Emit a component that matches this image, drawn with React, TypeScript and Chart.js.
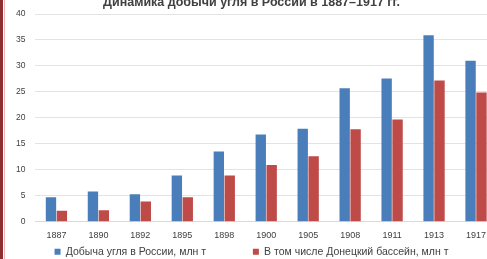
import React, { useEffect, useRef } from "react";
import { Chart, registerables } from "chart.js";

Chart.register(...registerables);

const years = ["1887", "1890", "1892", "1895", "1898", "1900", "1905", "1908", "1911", "1913", "1917"];
const russiaCoal = [4.7, 5.8, 5.3, 8.9, 13.5, 16.8, 17.9, 25.7, 27.6, 35.9, 31.0];
const donbassCoal = [2.1, 2.2, 3.9, 4.7, 8.9, 10.9, 12.6, 17.8, 19.7, 27.2, 24.9];
const yTicks = [0, 5, 10, 15, 20, 25, 30, 35, 40];
const titleText = "Динамика добычи угля в России в 1887–1917 гг.";
const seriesNames = ["Добыча угля в России, млн т", "В том числе Донецкий бассейн, млн т"];

export default function App() {
  const ref = useRef<HTMLCanvasElement | null>(null);

  useEffect(() => {
    if (!ref.current) return;
    const font = "'Liberation Sans', Arial, sans-serif";
    const chart = new Chart(ref.current, {
      type: "bar",
      data: {
        labels: years,
        datasets: [
          {
            label: seriesNames[0],
            data: russiaCoal,
            backgroundColor: "#4a7ebb",
            borderWidth: 0,
            categoryPercentage: 0.52,
            barPercentage: 0.95,
          },
          {
            label: seriesNames[1],
            data: donbassCoal,
            backgroundColor: "#be4b48",
            borderWidth: 0,
            categoryPercentage: 0.52,
            barPercentage: 0.95,
          },
        ],
      },
      options: {
        responsive: false,
        animation: false,
        layout: { padding: { left: 6, right: 0, top: 0, bottom: 0 } },
        plugins: {
          title: {
            display: true,
            text: titleText,
            color: "#404040",
            font: { family: font, size: 12.5, weight: "bold" },
            padding: { top: 3, bottom: 4 },
          },
          legend: {
            position: "bottom",
            labels: {
              color: "#404040",
              font: { family: font, size: 10.5 },
              boxWidth: 6,
              boxHeight: 6,
              padding: 6,
              generateLabels: (c: any) => {
                const items = Chart.defaults.plugins.legend.labels.generateLabels(c);
                return items.map((it: any, i: number) => ({
                  ...it,
                  text: i === 0 ? it.text + "              " : it.text,
                }));
              },
            },
          },
          tooltip: { enabled: false },
        },
        scales: {
          x: {
            grid: { display: false },
            border: { display: true, color: "#d9d9d9" },
            ticks: {
              color: "#404040",
              font: { family: font, size: 9 },
              padding: 0,
              maxRotation: 0,
              autoSkip: false,
            },
          },
          y: {
            min: 0,
            max: 40,
            afterBuildTicks: (axis: any) => {
              axis.ticks = yTicks.map((v) => ({ value: v }));
            },
            grid: { color: "#e3e3e3", drawTicks: false },
            border: { display: false },
            ticks: {
              color: "#404040",
              font: { family: font, size: 8.5 },
              padding: 10,
            },
          },
        },
      },
    });
    return () => chart.destroy();
  }, []);

  return (
    <div
      style={{
        position: "fixed",
        left: 0,
        top: 0,
        width: 487,
        height: 259,
        overflow: "hidden",
        background: "#ffffff",
      }}
    >
      <div style={{ position: "absolute", left: 0, top: -8, width: 497, height: 275 }}>
        <canvas ref={ref} width={497} height={275} style={{ display: "block" }} />
      </div>
      <div
        style={{
          position: "absolute",
          left: 0,
          top: 0,
          width: 3,
          height: 259,
          background: "#8c2f2f",
        }}
      />
      <div
        style={{
          position: "absolute",
          left: 4,
          top: 0,
          width: 1,
          height: 259,
          background: "#f0b4b4",
        }}
      />
    </div>
  );
}
